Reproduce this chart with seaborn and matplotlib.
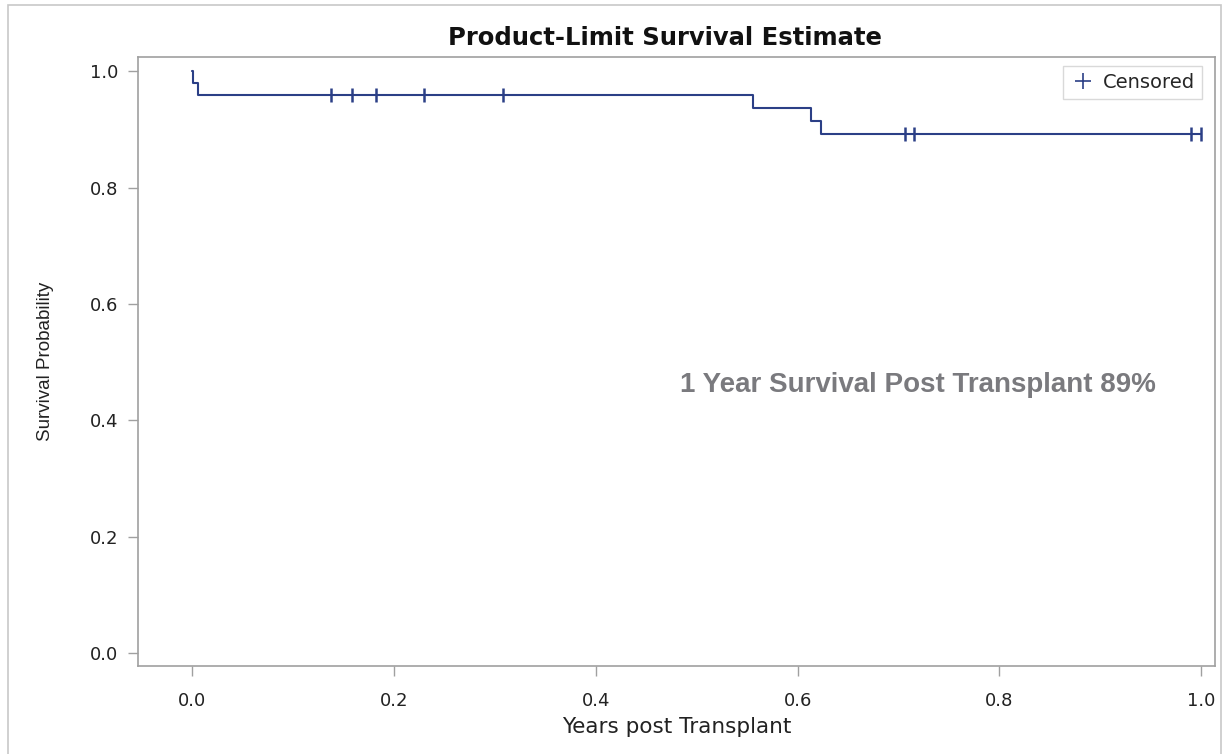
import matplotlib
matplotlib.use("Agg")
import matplotlib.pyplot as plt
import seaborn as sns
import pandas as pd
from matplotlib.patches import Rectangle
from matplotlib.lines import Line2D

# ---- data ----
step_times = [0.0, 0.0005, 0.0063, 0.5557, 0.6132, 0.6227, 1.0]
step_surv = [1.0, 0.98, 0.96, 0.9377, 0.9154, 0.8931, 0.8931]
censor_times = [0.138, 0.159, 0.182, 0.2296, 0.308, 0.7066, 0.7149, 0.9898, 0.9997]
censor_surv = [0.96, 0.96, 0.96, 0.96, 0.96, 0.8931, 0.8931, 0.8931, 0.8931]
x_ticks = [0.0, 0.2, 0.4, 0.6, 0.8, 1.0]
y_ticks = [0.0, 0.2, 0.4, 0.6, 0.8, 1.0]
title = "Product-Limit Survival Estimate"
xlabel = "Years post Transplant"
ylabel = "Survival Probability"
note = "1 Year Survival Post Transplant 89%"

sns.set_theme(style="white")
plt.rcParams["font.family"] = ["DejaVu Sans"]

line_color = "#2B3F86"
gray = "#A0A0A0"

fig = plt.figure(figsize=(12.24, 7.54), dpi=100)
ax = fig.add_axes([138 / 1224, 1 - 666 / 754, (1215 - 138) / 1224, (666 - 57) / 754])

# outer frame
fig.patches.append(Rectangle((8 / 1224, -0.01), (1221 - 8) / 1224, (754 - 5) / 754 + 0.01,
                             transform=fig.transFigure, fill=False, edgecolor="#C8C8C8",
                             linewidth=1.2))

steps = pd.DataFrame({"t": step_times, "s": step_surv})
cens = pd.DataFrame({"t": censor_times, "s": censor_surv})

sns.lineplot(data=steps, x="t", y="s", ax=ax, color=line_color, linewidth=1.5,
             drawstyle="steps-post", estimator=None, sort=False)
sns.scatterplot(data=cens, x="t", y="s", ax=ax, marker="|", s=110, color=line_color,
                linewidth=1.8, zorder=3)

ax.set_xlim(-0.0535, 1.0135)
ax.set_ylim(-0.0223, 1.0247)
ax.set_xticks(x_ticks)
ax.set_yticks(y_ticks)
ax.set_xticklabels([f"{v:.1f}" for v in x_ticks])
ax.set_yticklabels([f"{v:.1f}" for v in y_ticks])
ax.tick_params(axis="both", which="both", direction="out", length=7, width=1, color=gray,
               labelsize=13, labelcolor="#222222", bottom=True, left=True)
ax.tick_params(axis="x", pad=12)
ax.tick_params(axis="y", pad=7)
for sp in ax.spines.values():
    sp.set_color(gray)
    sp.set_linewidth(1.2)

ax.set_xlabel(xlabel, fontsize=15.5, color="#222222", labelpad=5)
ax.set_ylabel(ylabel, fontsize=13.5, color="#222222", labelpad=26,
              family=["Liberation Sans", "DejaVu Sans"])

fig.text(665 / 1224, 1 - 38 / 754, title, ha="center", va="center", fontsize=17.5,
         fontweight="bold", color="#111111")

ax.text(0.483, 0.46, note, transform=ax.transData, fontsize=20, fontweight="bold",
        color="#7A7A7E", ha="left", va="center", family=["Liberation Sans", "DejaVu Sans"])

handle = Line2D([], [], linestyle="none", marker="+", markersize=11, markeredgewidth=1.2,
                color=line_color)
leg = ax.legend([handle], ["Censored"], loc="upper right", fontsize=14, frameon=True,
                fancybox=False, borderpad=0.35, handletextpad=0.4, handlelength=1.3,
                bbox_to_anchor=(1 - 13 / 1077, 1 - 9 / 609), borderaxespad=0.0)
leg.get_frame().set_edgecolor("#D0D0D0")
leg.get_frame().set_linewidth(1.0)

fig.savefig("out.png", dpi=100)
